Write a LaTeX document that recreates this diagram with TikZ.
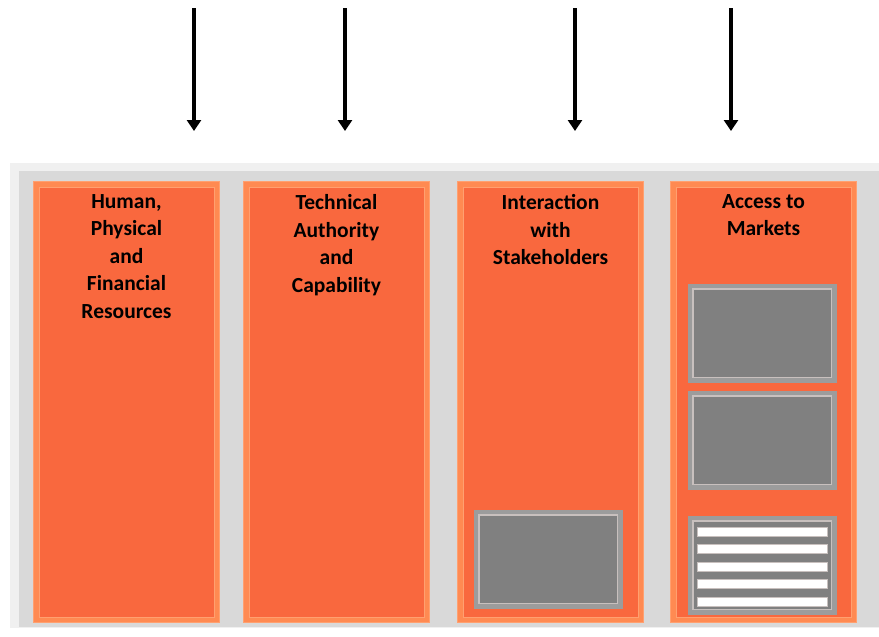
\documentclass[tikz,border=0pt]{standalone}
\usepackage{fontspec}
\setmainfont{Carlito}
\usetikzlibrary{arrows.meta}
\definecolor{panel}{HTML}{D9D9D9}
\definecolor{panelrim}{HTML}{F0F0F0}
\definecolor{orng}{HTML}{F9683E}
\definecolor{orngrim}{HTML}{FF8A52}
\definecolor{orngline}{HTML}{FFA070}
\definecolor{gbox}{HTML}{808080}
\definecolor{grim}{HTML}{9C9C9C}
\definecolor{glight}{HTML}{C8C0BE}
\tikzset{
  column/.style={draw=orngline, line width=1pt, fill=orngrim, minimum width=186pt, minimum height=441pt, inner sep=0pt},
  colinner/.style={draw=orngline, line width=0.8pt, fill=orng},
  grey/.style={draw=grim, line width=0.6pt, fill=grim, minimum width=148pt, minimum height=98pt, inner sep=0pt},
  greyinner/.style={draw=glight, line width=1.2pt, fill=gbox},
  stripe/.style={draw=glight, line width=0.4pt, fill=white},
  title/.style={font=\bfseries\fontsize{21.5}{27.5}\selectfont, align=center, anchor=north, text=black},
  down/.style={line width=3.5pt, -{Triangle[length=11pt,width=14pt]}}
}
\begin{document}
\begin{tikzpicture}[x=1pt,y=-1pt]
\useasboundingbox (0,0) rectangle (879,637);
% panel
\node[draw=panelrim, line width=2pt, fill=panelrim, minimum width=880pt, minimum height=463pt, inner sep=0pt, anchor=north west] (panel) at (10,163) {};
\fill[panel] (19,171) rectangle (879,627);
% columns
\foreach \n/\x in {c1/33, c2/243, c3/457, c4/670}{
  \node[column, anchor=north west] (\n) at (\x,181) {};
  \draw[colinner] ([shift={(6pt,-6pt)}]\n.north west) rectangle ([shift={(-6pt,6pt)}]\n.south east);
}
% titles
\node[title] (t1) at ([yshift=-10pt]c1.north) {Human,\\Physical\\and\\Financial\\Resources};
\node[title] (t2) at ([yshift=-10pt]c2.north) {Technical\\Authority\\and\\Capability};
\node[title] (t3) at ([yshift=-10pt]c3.north) {Interaction\\with\\Stakeholders};
\node[title] (t4) at ([yshift=-10pt]c4.north) {Access to\\Markets};
% grey boxes
\node[grey, anchor=north west] (g3) at (474,510) {};
\node[grey, anchor=north west] (g4a) at (688,284) {};
\node[grey, anchor=north west] (g4b) at (688,391) {};
\node[grey, anchor=north west] (g4c) at (688,516) {};
\foreach \g in {g3,g4a,g4b,g4c}{
  \draw[greyinner] ([shift={(5pt,-5pt)}]\g.north west) rectangle ([shift={(-5pt,5pt)}]\g.south east);
}
\foreach \y in {527,544,562,579,597}{
  \draw[stripe] (697,\y) rectangle (827,\y+9);
}
% arrows
\foreach \n/\x in {a1/194, a2/345, a3/575, a4/731}{
  \coordinate (\n s) at (\x,8);
  \coordinate (\n e) at (\x,131);
  \draw[down] (\n s) -- (\n e);
}
\end{tikzpicture}
\end{document}
